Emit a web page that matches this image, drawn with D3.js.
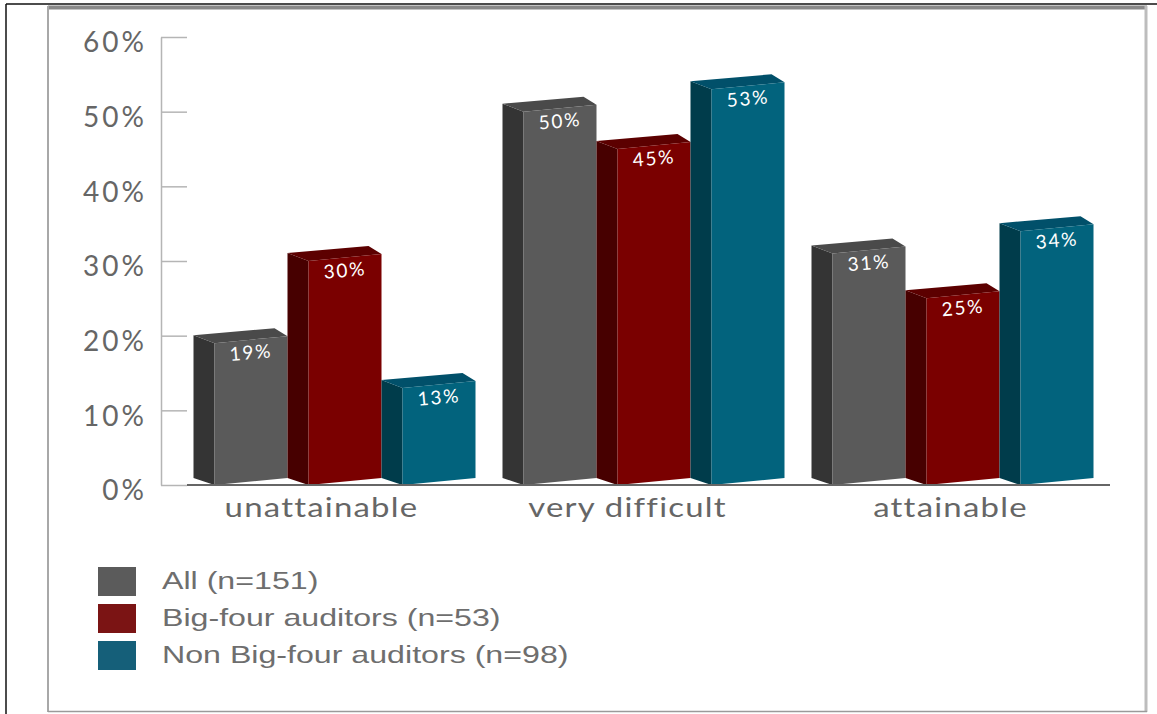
<!DOCTYPE html>
<html>
<head>
<meta charset="utf-8">
<script src="https://cdn.jsdelivr.net/npm/d3@7/dist/d3.min.js"></script>
<style>
  html, body { margin: 0; padding: 0; background: #fff; }
  svg { display: block; }
</style>
</head>
<body>
<svg id="chart" width="1157" height="714"></svg>
<script>
// ---- data ----
const categories = ["unattainable", "very difficult", "attainable"];
const seriesNames = ["All (n=151)", "Big-four auditors (n=53)", "Non Big-four auditors (n=98)"];
const allValues = [0.19, 0.50, 0.31];
const bigFourValues = [0.30, 0.45, 0.25];
const nonBigFourValues = [0.13, 0.53, 0.34];
const yTicks = [0, 0.1, 0.2, 0.3, 0.4, 0.5, 0.6];

const seriesValues = [allValues, bigFourValues, nonBigFourValues];
const palette = [
  { front: "#5a5a5a", side: "#343434", top: "#4a4a4a", legend: "#5b5b5b" },
  { front: "#7a0000", side: "#470000", top: "#5c0000", legend: "#7b1414" },
  { front: "#02637d", side: "#003c4b", top: "#01506a", legend: "#155f79" }
];

const svg = d3.select("#chart");

// ---- frame ----
svg.append("line").attr("x1", 6).attr("x2", 6).attr("y1", 4).attr("y2", 714)
  .attr("stroke", "#111").attr("stroke-width", 1.5);
svg.append("line").attr("x1", 6).attr("x2", 1157).attr("y1", 4).attr("y2", 4)
  .attr("stroke", "#111").attr("stroke-width", 1.5);
svg.append("rect").attr("x", 48).attr("y", 5.5).attr("width", 1099).attr("height", 4)
  .attr("fill", "#8a8a8a");
svg.append("line").attr("x1", 48).attr("x2", 48).attr("y1", 6).attr("y2", 712)
  .attr("stroke", "#a8a8a8").attr("stroke-width", 2);
svg.append("line").attr("x1", 1146).attr("x2", 1146).attr("y1", 6).attr("y2", 712)
  .attr("stroke", "#bdbdbd").attr("stroke-width", 3);
svg.append("line").attr("x1", 48).attr("x2", 1147).attr("y1", 711.5).attr("y2", 711.5)
  .attr("stroke", "#9a9a9a").attr("stroke-width", 1.5);

// ---- scales ----
const base = 485;
const y = d3.scaleLinear().domain([0, 0.6]).range([base, 37]);
const x = d3.scaleBand().domain(categories).range([180, 1107]).paddingInner(0).paddingOuter(0);
const sideW = 21, frontW = 73;
const unit = sideW + frontW;
const clusterW = unit * seriesNames.length;
const xs = d3.scaleBand().domain(d3.range(seriesNames.length)).range([0, clusterW]);

// ---- y axis ----
const yAxis = d3.axisLeft(y).tickValues(yTicks).tickFormat(d3.format(".0%"))
  .tickSizeInner(-26).tickSizeOuter(0).tickPadding(14);
const gy = svg.append("g").attr("transform", "translate(161,0)").call(yAxis);
gy.select(".domain").attr("stroke", "#b5b5b5").attr("stroke-width", 1.5);
gy.selectAll(".tick line").attr("stroke", "#b5b5b5").attr("stroke-width", 1.5);
gy.selectAll(".tick text")
  .attr("fill", "#666")
  .attr("font-family", "Lato, 'Open Sans', sans-serif")
  .attr("font-size", 28)
  .attr("letter-spacing", 3)
  .attr("dy", "0.53em");

// ---- bars ----
const bars = [];
categories.forEach((c, ci) => {
  seriesValues.forEach((vals, si) => {
    bars.push({ cat: c, s: si, v: vals[ci] });
  });
});

const gBars = svg.append("g");
bars.forEach(b => {
  const start = x(b.cat) + x.bandwidth() / 2 - clusterW / 2 + xs(b.s);
  const x0 = start + sideW;           // front-left
  const x1 = x0 + frontW;             // front-right
  const yv = y(b.v);
  const slope = 7, depth = 8;
  const col = palette[b.s];
  // side face
  gBars.append("path")
    .attr("d", `M${x0 - sideW},${yv - depth} L${x0},${yv} L${x0},${base} L${x0 - sideW},${base - slope} Z`)
    .attr("fill", col.side);
  // top face
  gBars.append("path")
    .attr("d", `M${x0},${yv} L${x1},${yv - slope} L${x1 - 13},${yv - slope - depth} L${x0 - sideW},${yv - depth} Z`)
    .attr("fill", col.top);
  // front face
  gBars.append("path")
    .attr("d", `M${x0},${yv} L${x1},${yv - slope} L${x1},${base - slope} L${x0},${base} Z`)
    .attr("fill", col.front);
  // value label
  const cx = (x0 + x1) / 2, cy = yv + 16;
  gBars.append("text")
    .attr("x", cx).attr("y", cy)
    .attr("text-anchor", "middle")
    .attr("transform", `rotate(-5,${cx},${cy - 6})`)
    .attr("fill", "#fff")
    .attr("font-family", "Lato, 'Open Sans', sans-serif")
    .attr("font-size", 19)
    .attr("letter-spacing", 1.8)
    .text(d3.format(".0%")(b.v));
});

// floor line
svg.append("line").attr("x1", 187).attr("x2", 1110).attr("y1", base).attr("y2", base)
  .attr("stroke", "#666").attr("stroke-width", 2);

// ---- category labels ----
const labelOffsets = [-13, -16, -2];
svg.append("g").selectAll("text").data(categories).join("text")
  .attr("transform", (d, i) => `translate(${x(d) + x.bandwidth() / 2 + labelOffsets[i]},517) scale(1.22,1)`)
  .attr("text-anchor", "middle")
  .attr("fill", "#666")
  .attr("font-family", "Lato, 'Open Sans', sans-serif")
  .attr("font-size", 27)
  .attr("letter-spacing", 1)
  .text(d => d);

// ---- legend ----
const legend = svg.append("g");
seriesNames.forEach((name, i) => {
  const ly = 567 + i * 37;
  legend.append("rect").attr("x", 98).attr("y", ly).attr("width", 38).attr("height", 29)
    .attr("fill", palette[i].legend);
  legend.append("text")
    .attr("transform", `translate(162,${ly + 22}) scale(1.34,1)`)
    .attr("fill", "#6e6e6e")
    .attr("font-family", "'Liberation Sans', Arial, Helvetica, sans-serif")
    .attr("font-size", 24)
    .text(name);
});
</script>
</body>
</html>
